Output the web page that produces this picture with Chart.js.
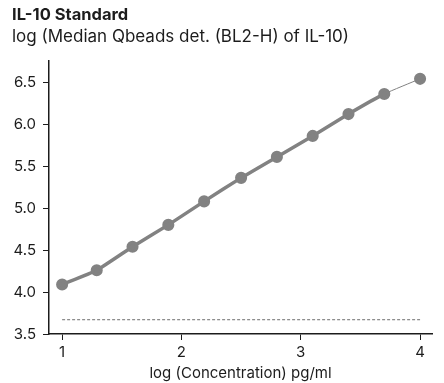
<!DOCTYPE html>
<html>
<head>
<meta charset="utf-8">
<script src="https://cdn.jsdelivr.net/npm/chart.js@4"></script>
<style>
  html, body { margin: 0; padding: 0; background: #fff; }
  #wrap { width: 444px; height: 383px; }
</style>
</head>
<body>
<div id="wrap"><canvas id="myChart"></canvas></div>
<script>
// log concentration (pg/ml) and log median signal
var logConc = [1.0, 1.29, 1.59, 1.89, 2.19, 2.5, 2.8, 3.1, 3.4, 3.7, 4.0];
var logSignal = [4.09, 4.26, 4.54, 4.80, 5.08, 5.36, 5.61, 5.86, 6.12, 6.36, 6.54];
var blankX = [1.0, 4.0];
var blankY = [3.67, 3.67];
var xTicks = [1, 2, 3, 4];
var yTicks = [3.5, 4.0, 4.5, 5.0, 5.5, 6.0, 6.5];

var ink = '#1c1c1c';
var gray = '#828282';
Chart.defaults.font.family = 'Inter, "Noto Sans", sans-serif';
Chart.defaults.color = ink;

var ctx = document.getElementById('myChart').getContext('2d');
var myChart = new Chart(ctx, {
    type: 'scatter',
    data: {
        datasets: [{
            data: logConc.map(function (x, i) { return {x: x, y: logSignal[i]}; }),
            showLine: true,
            borderColor: gray,
            backgroundColor: gray,
            borderWidth: 3.5,
            pointRadius: 4.3,
            pointHoverRadius: 4.3,
            tension: 0.15,
            segment: {
                borderWidth: function (c) { return c.p1DataIndex === logConc.length - 1 ? 1 : 3.5; }
            }
        }, {
            data: blankX.map(function (x, i) { return {x: x, y: blankY[i]}; }),
            showLine: true,
            borderColor: '#6e6e6e',
            borderWidth: 1,
            borderDash: [3, 2],
            pointRadius: 0
        }]
    },
    options: {
        responsive: true,
        maintainAspectRatio: false,
        animation: false,
        layout: { padding: { left: 12, right: 12, top: 0, bottom: 1 } },
        plugins: {
            legend: { display: false },
            tooltip: { enabled: false },
            title: {
                display: true,
                align: 'start',
                text: 'IL-10 Standard',
                color: ink,
                font: { size: 16.5, weight: 'bold' },
                padding: { top: 5, bottom: 0 }
            },
            subtitle: {
                display: true,
                align: 'start',
                text: 'log (Median Qbeads det. (BL2-H) of IL-10)',
                color: ink,
                font: { size: 17 },
                padding: { top: 2, bottom: 14 }
            }
        },
        scales: {
            x: {
                type: 'linear',
                min: 0.89,
                max: 4.1,
                afterBuildTicks: function (axis) { axis.ticks = xTicks.map(function (v) { return {value: v}; }); },
                ticks: { font: { size: 15 }, color: ink, padding: 3 },
                grid: { drawOnChartArea: false, drawTicks: true, tickLength: 6, color: ink },
                border: { color: ink, width: 1.5 },
                title: {
                    display: true,
                    text: 'log (Concentration) pg/ml',
                    font: { size: 15 },
                    color: ink,
                    padding: { top: 0, bottom: 0 }
                }
            },
            y: {
                min: 3.5,
                max: 6.75,
                afterBuildTicks: function (axis) { axis.ticks = yTicks.map(function (v) { return {value: v}; }); },
                afterFit: function (axis) { axis.width = 37; },
                ticks: {
                    font: { size: 15 },
                    color: ink,
                    padding: 7,
                    callback: function (v) { return v.toFixed(1); }
                },
                grid: { drawOnChartArea: false, drawTicks: true, tickLength: 6, color: ink },
                border: { color: ink, width: 1.5 }
            }
        }
    }
});
</script>
</body>
</html>
